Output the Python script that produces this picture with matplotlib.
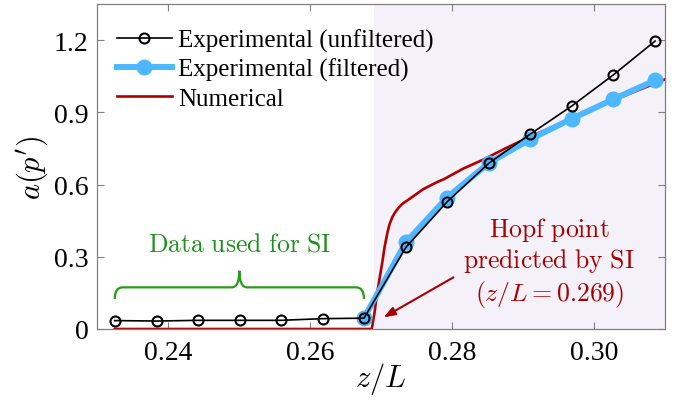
import matplotlib
matplotlib.use("Agg")
import matplotlib.pyplot as plt
from matplotlib.path import Path
from matplotlib.patches import PathPatch

plt.rcParams["font.family"] = ["Liberation Serif", "DejaVu Serif"]
plt.rcParams["mathtext.fontset"] = "cm"

# Measured oscillation amplitude along the duct
z_exp = [0.2325, 0.2384, 0.2442, 0.2501, 0.2559, 0.2618, 0.2676,
         0.2735, 0.2793, 0.2852, 0.2910, 0.2969, 0.3027, 0.3086]
a_unfiltered = [0.035, 0.033, 0.036, 0.036, 0.036, 0.043, 0.045,
                0.339, 0.528, 0.689, 0.809, 0.927, 1.055, 1.196]

z_filt = [0.2676, 0.2735, 0.2793, 0.2852, 0.2910, 0.2969, 0.3027, 0.3086]
a_filtered = [0.045, 0.360, 0.546, 0.690, 0.788, 0.874, 0.954, 1.033]

# Numerical prediction
z_num = [0.2325, 0.2687, 0.2691, 0.2694, 0.2698, 0.2702, 0.2705, 0.2709,
         0.2712, 0.2716, 0.2720, 0.2725, 0.2731, 0.2740, 0.2759, 0.2778,
         0.2789, 0.2815, 0.2845, 0.2875, 0.2907, 0.2965, 0.3025, 0.3100]
a_num = [0.0, 0.0, 0.07, 0.14, 0.21, 0.28, 0.34, 0.40,
         0.435, 0.465, 0.485, 0.505, 0.522, 0.540, 0.580, 0.609,
         0.623, 0.665, 0.705, 0.750, 0.795, 0.870, 0.947, 1.037]

z_hopf = 0.269
x_ticks = [0.24, 0.26, 0.28, 0.30]
y_ticks = [0, 0.3, 0.6, 0.9, 1.2]
y_tick_labels = ["0", "0.3", "0.6", "0.9", "1.2"]

fig = plt.figure(figsize=(6.74, 4.10), dpi=100)
ax = fig.add_axes([97 / 674, 80 / 410, 568 / 674, 325 / 410])
ax.set_xlim(0.23, 0.31)
ax.set_ylim(0, 1.35)

ax.axvspan(z_hopf, 0.31, color="#f4f1f9", zorder=0, lw=0)

ax.plot(z_num, a_num, color="#b00000", lw=1.9, zorder=2, label="Numerical")
ax.plot(z_filt, a_filtered, color="#4db8ff", lw=4.3, marker="o", ms=10.5,
        mec="#4db8ff", mfc="#4db8ff", zorder=3, label="Experimental (filtered)")
ax.plot(z_exp, a_unfiltered, color="black", lw=1.2, marker="o", ms=7.2,
        mfc="none", mec="black", mew=1.5, zorder=4,
        label="Experimental (unfiltered)")

# Legend in the order unfiltered, filtered, numerical
handles, labels = ax.get_legend_handles_labels()
order = [2, 1, 0]
ax.legend([handles[i] for i in order], [labels[i] for i in order],
          loc="upper left", bbox_to_anchor=(0.035, 0.925), frameon=False,
          fontsize=18, handlelength=2.2, handletextpad=0.25,
          labelspacing=0.24, borderpad=0, borderaxespad=0)

ax.set_xticks(x_ticks)
ax.set_xticklabels([f"{v:.2f}" for v in x_ticks])
ax.set_yticks(y_ticks)
ax.set_yticklabels(y_tick_labels)
ax.tick_params(direction="in", length=5, width=0.8, color="#808080",
               labelsize=20, top=True, right=True)
ax.tick_params(axis="x", pad=8)
ax.tick_params(axis="y", pad=6)
for s in ax.spines.values():
    s.set_color("#808080")
    s.set_linewidth(0.9)

ax.set_xlabel(r"$z/L$", fontsize=22, labelpad=-4)
ax.set_ylabel(r"$a(p')$", fontsize=22, labelpad=3)

# Curly brace over the data range used for system identification
green = "#2a9a1a"
x0, x1 = z_exp[0], z_exp[6]
xm = 0.5 * (x0 + x1)
y_end, y_h, y_tip = 0.125, 0.173, 0.242
r = 0.0011
verts = [(x0, y_end), (x0, y_h), (x0 + r, y_h),
         (xm - r, y_h), (xm, y_h), (xm, y_tip),
         (xm, y_h), (xm + r, y_h),
         (x1 - r, y_h), (x1, y_h), (x1, y_end)]
codes = [Path.MOVETO, Path.CURVE3, Path.CURVE3,
         Path.LINETO, Path.CURVE3, Path.CURVE3,
         Path.CURVE3, Path.CURVE3,
         Path.LINETO, Path.CURVE3, Path.CURVE3]
ax.add_patch(PathPatch(Path(verts, codes), fill=False, edgecolor=green,
                       lw=1.6, zorder=5))
ax.text(xm, 0.353, r"$\mathrm{Data\ used\ for\ SI}$", color="#1f8f1f",
        fontsize=18.5, ha="center", va="center")

# Hopf point annotation
red = "#a80000"
ax.annotate("", xy=(0.27034, 0.048), xytext=(0.2802, 0.2145),
            arrowprops=dict(arrowstyle="-|>,head_length=0.7,head_width=0.25",
                            color=red, lw=1.5, shrinkA=0, shrinkB=0),
            zorder=6)
ax.text(0.2937, 0.417, r"$\mathrm{Hopf\ point}$", color=red,
        fontsize=18.5, ha="center", va="center")
ax.text(0.2937, 0.286, r"$\mathrm{predicted\ by\ SI}$", color=red,
        fontsize=18.5, ha="center", va="center")
ax.text(0.2937, 0.148, r"$(z/L=0.269)$", color=red,
        fontsize=18.5, ha="center", va="center")

fig.savefig("out.png", dpi=100)
